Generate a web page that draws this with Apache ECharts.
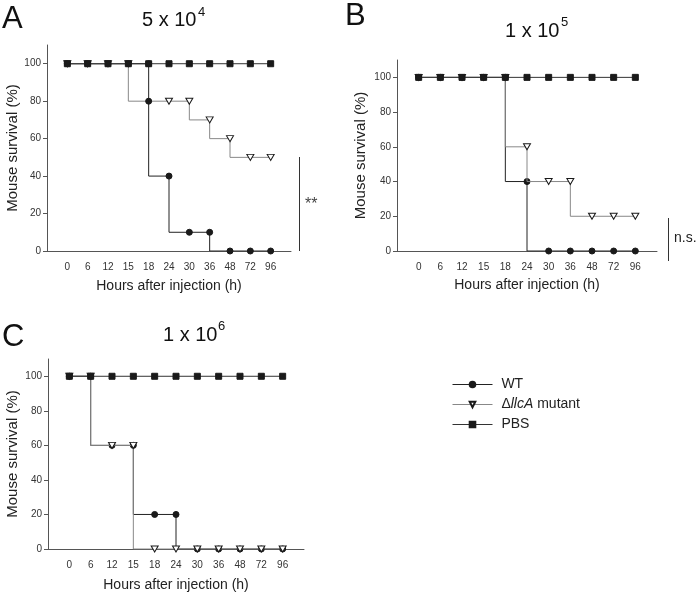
<!DOCTYPE html>
<html><head><meta charset="utf-8">
<script src="https://cdn.jsdelivr.net/npm/echarts@6/dist/echarts.min.js"></script>
<style>html,body{margin:0;padding:0;background:#fff}#c{width:700px;height:593px}</style>
</head><body><div id="c"></div>
<script>
// ---- data ----
const hours = ['0','6','12','15','18','24','30','36','48','72','96'];
const yTicks = [0,20,40,60,80,100];
const panelLetters = ['A','B','C'];
const panelTitles = ['5 x 10','1 x 10','1 x 10'];
const panelExponents = ['4','5','6'];
const seriesNames = ['WT','mutant','PBS'];

const wtA  = [100,100,100,100,100,40,10,10,0,0,0];
const mutA = [100,100,100,100,80,80,80,70,60,50,50];
const pbsA = [100,100,100,100,100,100,100,100,100,100,100];

const wtB  = [100,100,100,100,100,40,0,0,0,0,0];
const mutB = [100,100,100,100,100,60,40,40,20,20,20];
const pbsB = [100,100,100,100,100,100,100,100,100,100,100];

const wtC  = [100,100,60,60,20,20,0,0,0,0,0];
const mutC = [100,100,60,60,0,0,0,0,0,0,0];
const pbsC = [100,100,100,100,100,100,100,100,100,100,100];

const significance = ['**','n.s.'];

// ---- layout / style ----
const FONT = '"Liberation Sans", Arial, Helvetica, sans-serif';
const grids = [
  {left:47, top:45, width:244, height:206},
  {left:397, top:60, width:260, height:191},
  {left:48, top:359, width:256, height:190}
];
const panels = [[wtA,mutA,pbsA],[wtB,mutB,pbsB],[wtC,mutC,pbsC]];
const styles = [
  {symbol:'circle', symbolSize:6, rotate:0, fill:'#1a1a1a', line:'#222', z:2},
  {symbol:'triangle', symbolSize:[7,6], rotate:180, fill:'#fff', line:'#888', z:3},
  {symbol:'rect', symbolSize:6, rotate:0, fill:'#1a1a1a', line:'#333', z:4}
];
const xIdx = hours.map((h,i)=>i);

const xAxes = grids.map((g,i)=>({
  gridIndex:i, type:'value', min:-1, max:11, interval:1,
  axisLine:{show:true, onZero:false, lineStyle:{color:'#555', width:1}},
  axisTick:{show:false},
  splitLine:{show:false},
  axisLabel:{customValues:xIdx, formatter:v=>hours[v]!==undefined?hours[v]:'', fontSize:10, color:'#333', margin:11, fontFamily:FONT},
  name:'Hours after injection (h)', nameLocation:'middle', nameGap:[28,27,29][i],
  nameTextStyle:{fontSize:14, color:'#222', fontFamily:FONT}
}));
const yAxes = grids.map((g,i)=>({
  gridIndex:i, type:'value', min:0, max:110, interval:20,
  axisLine:{show:true, onZero:false, lineStyle:{color:'#555', width:1}},
  axisTick:{show:true, customValues:yTicks, length:4, lineStyle:{color:'#555'}},
  splitLine:{show:false},
  axisLabel:{customValues:yTicks, formatter:v=>v>100?'':String(v), fontSize:10, color:'#333', margin:6, fontFamily:FONT},
  name:'Mouse survival (%)', nameLocation:'middle', nameRotate:90, nameGap:[27,29,28][i],
  nameTextStyle:{fontSize:15, color:'#222', fontFamily:FONT}
}));

const series = [];
panels.forEach((arrs,p)=>{
  arrs.forEach((vals,s)=>{
    const st = styles[s];
    const data = vals.map((v,i)=>{
      // panel A: mutant point at 18 h is drawn with a filled circle in the original
      if (p===0 && s===1 && hours[i]==='18') {
        return {value:[i,v], symbol:'circle', symbolSize:6, symbolRotate:0, itemStyle:{color:'#1a1a1a', borderColor:'#1a1a1a'}};
      }
      return [i,v];
    });
    series.push({
      name:seriesNames[s], type:'line', xAxisIndex:p, yAxisIndex:p,
      step:'start', data, z:st.z,
      symbol:st.symbol, symbolSize:st.symbolSize, symbolRotate:st.rotate, showAllSymbol:true,
      lineStyle:{color:st.line, width:1},
      itemStyle:{color:st.fill, borderColor:'#1a1a1a', borderWidth:1},
      emphasis:{disabled:true}, animation:false
    });
  });
});

const graphic = [];
const letterPos = [[2,19],[345,16],[2,337]];
panelLetters.forEach((l,i)=>graphic.push({type:'text', style:{text:l, x:letterPos[i][0], y:letterPos[i][1], fontSize:31, fontFamily:FONT, fill:'#111', verticalAlign:'middle', align:'left'}}));
const titlePos = [[142,20,198,12],[505,31,561,22],[163,335,218,326]];
panelTitles.forEach((t,i)=>{
  const q = titlePos[i];
  graphic.push({type:'text', style:{text:t, x:q[0], y:q[1], fontSize:20, fontFamily:FONT, fill:'#111', verticalAlign:'middle', align:'left'}});
  graphic.push({type:'text', style:{text:panelExponents[i], x:q[2], y:q[3], fontSize:13, fontFamily:FONT, fill:'#111', verticalAlign:'middle', align:'left'}});
});
graphic.push({type:'line', shape:{x1:299.5,y1:157,x2:299.5,y2:251}, style:{stroke:'#333', lineWidth:1}});
graphic.push({type:'text', style:{text:significance[0], x:305, y:205, fontSize:16, fontFamily:FONT, fill:'#444', verticalAlign:'middle'}});
graphic.push({type:'line', shape:{x1:668.5,y1:218,x2:668.5,y2:261}, style:{stroke:'#333', lineWidth:1}});
graphic.push({type:'text', style:{text:significance[1], x:674, y:238, fontSize:14, fontFamily:FONT, fill:'#222', verticalAlign:'middle'}});

const chart = echarts.init(document.getElementById('c'), null, {renderer:'canvas'});
chart.setOption({
  animation:false,
  backgroundColor:'#fff',
  textStyle:{fontFamily:FONT},
  grid:grids, xAxis:xAxes, yAxis:yAxes, series, graphic,
  legend:{
    left:452, top:377, padding:0, orient:'vertical', itemWidth:40, itemHeight:7, itemGap:5,
    selectedMode:false, data:seriesNames,
    lineStyle:{width:1},
    formatter:n=>n==='mutant'?'{n| Δ}{i|llcA}{n| mutant}':' '+n,
    textStyle:{fontSize:14, color:'#222', lineHeight:15, fontFamily:FONT,
      rich:{n:{fontSize:14, color:'#222', fontFamily:FONT}, i:{fontSize:14, color:'#222', fontStyle:'italic', fontFamily:FONT}}}
  }
});
</script></body></html>
